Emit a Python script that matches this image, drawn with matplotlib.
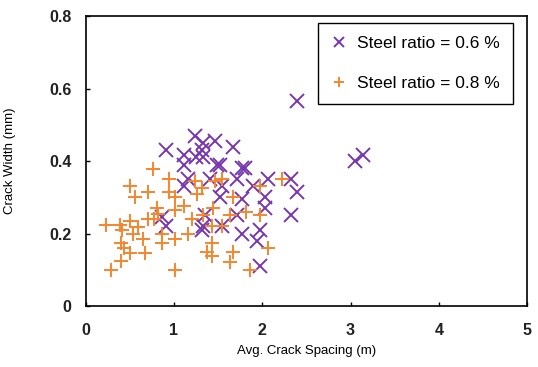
import matplotlib.pyplot as plt

plt.rcParams['font.family'] = ['Liberation Sans', 'DejaVu Sans']

# Steel ratio = 0.6 %
spacing_06 = [0.91, 1.24, 1.12, 1.25, 1.12, 1.16, 1.12, 0.86, 0.91, 1.33,
              1.46, 1.67, 1.32, 1.33, 1.49, 1.52, 1.77, 1.80, 1.41, 1.72,
              2.06, 2.33, 1.55, 1.52, 1.89, 2.39, 1.77, 2.03, 2.03, 1.71,
              2.33, 1.33, 1.32, 1.55, 1.97, 1.77, 1.94, 1.97, 2.39, 3.05,
              3.14, 1.35]
width_06 = [0.43, 0.47, 0.416, 0.41, 0.39, 0.35, 0.33, 0.245, 0.22, 0.45,
            0.455, 0.44, 0.43, 0.41, 0.39, 0.39, 0.38, 0.38, 0.35, 0.35,
            0.35, 0.35, 0.33, 0.30, 0.33, 0.315, 0.296, 0.30, 0.27, 0.25,
            0.25, 0.22, 0.21, 0.22, 0.21, 0.20, 0.18, 0.11, 0.567, 0.40,
            0.416, 0.25]

# Steel ratio = 0.8 %
spacing_08 = [0.76, 0.95, 0.50, 0.56, 0.71, 0.95, 1.01, 0.81, 0.82, 1.01,
              0.235, 0.39, 0.41, 0.50, 0.71, 0.77, 0.59, 0.54, 0.65, 0.86,
              0.86, 1.01, 0.40, 0.44, 0.50, 0.67, 0.40, 0.29, 1.01, 1.11,
              1.16, 1.24, 1.32, 1.26, 1.46, 1.55, 2.22, 1.97, 1.67, 1.44,
              1.82, 1.63, 1.97, 1.33, 1.20, 1.43, 1.54, 1.43, 1.37, 1.43,
              1.67, 1.63, 2.06, 1.86]
width_08 = [0.377, 0.35, 0.33, 0.30, 0.315, 0.315, 0.30, 0.27, 0.255, 0.265,
            0.225, 0.225, 0.21, 0.235, 0.24, 0.24, 0.217, 0.198, 0.186, 0.198,
            0.175, 0.186, 0.175, 0.16, 0.147, 0.147, 0.124, 0.099, 0.099, 0.277,
            0.20, 0.345, 0.325, 0.31, 0.345, 0.35, 0.35, 0.33, 0.30, 0.27,
            0.26, 0.25, 0.25, 0.25, 0.24, 0.22, 0.22, 0.175, 0.15, 0.137,
            0.15, 0.123, 0.16, 0.10]

purple = '#7638B0'
orange = '#F5862E'

fig = plt.figure(figsize=(5.38, 3.67), dpi=100)
ax = fig.add_axes([0.159, 0.166, 0.821, 0.79])

ax.plot(spacing_06, width_06, 'x', color=purple, markersize=9.5, markeredgewidth=1.4,
        label='Steel ratio = 0.6 %')
ax.plot(spacing_08, width_08, '+', color=orange, markersize=9.5, markeredgewidth=1.4,
        label='Steel ratio = 0.8 %')

ax.set_xlim(0, 5)
ax.set_ylim(0, 0.8)
ax.set_xticks([0, 1, 2, 3, 4, 5])
ax.set_yticks([0, 0.2, 0.4, 0.6, 0.8])
ax.set_yticklabels(['0', '0.2', '0.4', '0.6', '0.8'])
ax.tick_params(direction='in', length=3, width=1, labelsize=11.5,
               top=False, right=False)
ax.tick_params(axis='x', pad=12)
ax.tick_params(axis='y', pad=10)
for lab in ax.get_xticklabels() + ax.get_yticklabels():
    lab.set_fontweight('bold')
    lab.set_color('#222222')
for sp in ax.spines.values():
    sp.set_linewidth(1.2)

ax.set_xlabel('Avg. Crack Spacing (m)', fontsize=9.5, labelpad=5)
ax.set_ylabel('Crack Width (mm)', fontsize=9.5, labelpad=24)

leg = ax.legend(loc='upper right', bbox_to_anchor=(0.968, 0.978), fontsize=12.5,
                frameon=True, fancybox=False, edgecolor='black', framealpha=1,
                handlelength=0.9, handletextpad=0.6, labelspacing=1.45,
                borderpad=0.75, borderaxespad=0, markerscale=0.8)
leg.get_frame().set_linewidth(1.0)

fig.savefig('out.png', dpi=100)
